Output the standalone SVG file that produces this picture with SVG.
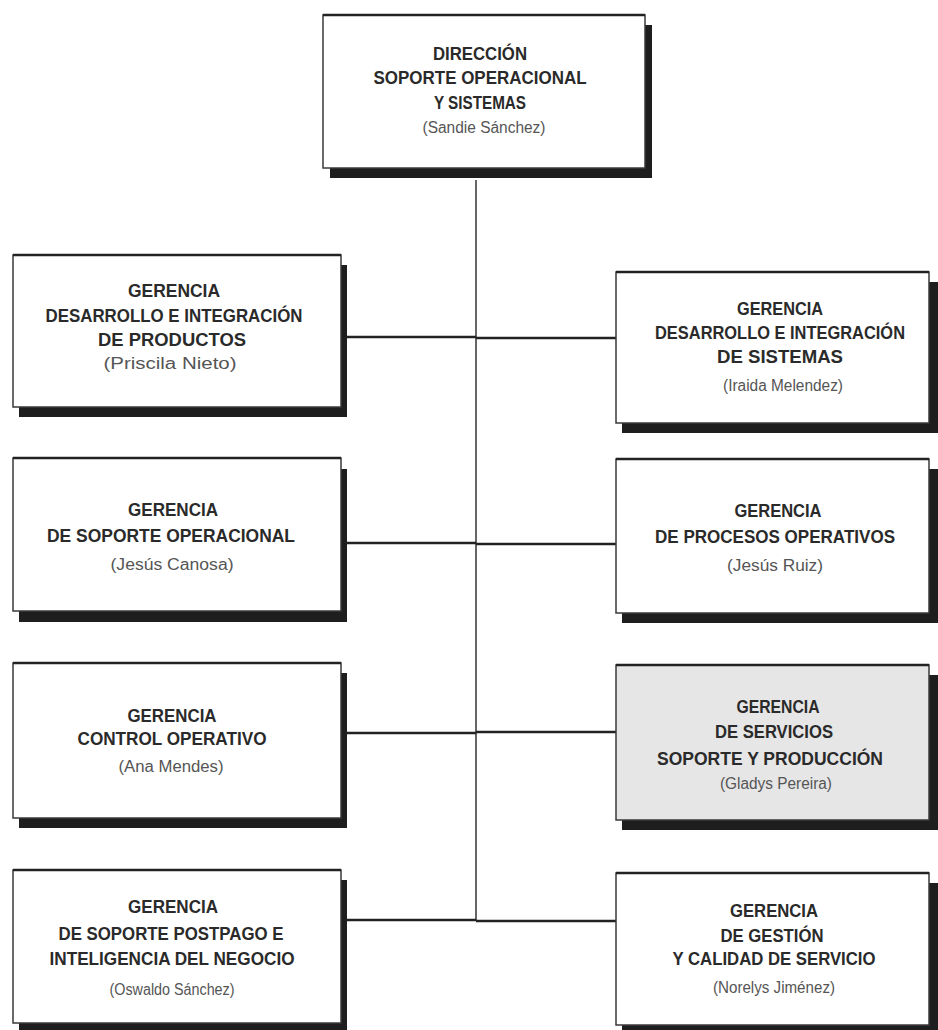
<svg xmlns="http://www.w3.org/2000/svg" width="938" height="1030" viewBox="0 0 938 1030">
<style>
.shadow{fill:#1e1e1e}
.box{fill:#ffffff;stroke:#3a3a3a;stroke-width:1.5}
.box.gray{fill:#e6e6e6}
.topedge{stroke:#222;stroke-width:2.5}
.t{font-family:"Liberation Sans",Arial,sans-serif;font-weight:bold;font-size:18px;fill:#2a2a2a;text-anchor:middle}
.n{font-family:"Liberation Sans",Arial,sans-serif;font-size:16px;fill:#555;text-anchor:middle}
.trunk{stroke:#333;stroke-width:1.5;fill:none}
.branch{stroke:#222;stroke-width:2.5;fill:none}
</style>
<rect width="938" height="1030" fill="#ffffff"/>
<g id="connectors">
<line class="trunk" x1="476" y1="180" x2="476" y2="921"/>
<line class="branch" x1="342" y1="337" x2="476" y2="337"/>
<line class="branch" x1="476" y1="338" x2="616" y2="338"/>
<line class="branch" x1="342" y1="543" x2="476" y2="543"/>
<line class="branch" x1="476" y1="544" x2="616" y2="544"/>
<line class="branch" x1="342" y1="733" x2="476" y2="733"/>
<line class="branch" x1="476" y1="732" x2="616" y2="732"/>
<line class="branch" x1="342" y1="920" x2="476" y2="920"/>
<line class="branch" x1="476" y1="921" x2="616" y2="921"/>
</g>
<g id="direccion">
<rect class="shadow" x="330" y="25" width="322" height="153"/>
<rect class="box" x="323" y="15" width="322" height="153"/>
<line class="topedge" x1="323" y1="15" x2="645" y2="15"/>
<text class="t" x="480" y="60" textLength="94" lengthAdjust="spacingAndGlyphs">DIRECCIÓN</text>
<text class="t" x="480" y="84" textLength="213" lengthAdjust="spacingAndGlyphs">SOPORTE OPERACIONAL</text>
<text class="t" x="480" y="109" textLength="92" lengthAdjust="spacingAndGlyphs">Y SISTEMAS</text>
<text class="n" x="484" y="133" textLength="123" lengthAdjust="spacingAndGlyphs">(Sandie Sánchez)</text>
</g>
<g id="g-productos">
<rect class="shadow" x="19" y="265" width="328" height="152"/>
<rect class="box" x="13" y="255" width="328" height="152"/>
<line class="topedge" x1="13" y1="255" x2="341" y2="255"/>
<text class="t" x="174" y="297" textLength="92" lengthAdjust="spacingAndGlyphs">GERENCIA</text>
<text class="t" x="174" y="322" textLength="257" lengthAdjust="spacingAndGlyphs">DESARROLLO E INTEGRACIÓN</text>
<text class="t" x="172" y="346" textLength="148" lengthAdjust="spacingAndGlyphs">DE PRODUCTOS</text>
<text class="n" x="170" y="369" textLength="133" lengthAdjust="spacingAndGlyphs">(Priscila Nieto)</text>
</g>
<g id="g-sistemas">
<rect class="shadow" x="622" y="282" width="316" height="151"/>
<rect class="box" x="616" y="272" width="313" height="151"/>
<line class="topedge" x1="616" y1="272" x2="929" y2="272"/>
<text class="t" x="780" y="315" textLength="86" lengthAdjust="spacingAndGlyphs">GERENCIA</text>
<text class="t" x="780" y="339" textLength="250" lengthAdjust="spacingAndGlyphs">DESARROLLO E INTEGRACIÓN</text>
<text class="t" x="780" y="363" textLength="126" lengthAdjust="spacingAndGlyphs">DE SISTEMAS</text>
<text class="n" x="783" y="391" textLength="120" lengthAdjust="spacingAndGlyphs">(Iraida Melendez)</text>
</g>
<g id="g-soporte">
<rect class="shadow" x="19" y="469" width="328" height="153"/>
<rect class="box" x="13" y="458" width="328" height="153"/>
<line class="topedge" x1="13" y1="458" x2="341" y2="458"/>
<text class="t" x="173" y="516" textLength="90" lengthAdjust="spacingAndGlyphs">GERENCIA</text>
<text class="t" x="171" y="542" textLength="248" lengthAdjust="spacingAndGlyphs">DE SOPORTE OPERACIONAL</text>
<text class="n" x="172" y="570" textLength="123" lengthAdjust="spacingAndGlyphs">(Jesús Canosa)</text>
</g>
<g id="g-procesos">
<rect class="shadow" x="622" y="469" width="316" height="154"/>
<rect class="box" x="616" y="459" width="313" height="154"/>
<line class="topedge" x1="616" y1="459" x2="929" y2="459"/>
<text class="t" x="778" y="517" textLength="87" lengthAdjust="spacingAndGlyphs">GERENCIA</text>
<text class="t" x="775" y="543" textLength="240" lengthAdjust="spacingAndGlyphs">DE PROCESOS OPERATIVOS</text>
<text class="n" x="775" y="571" textLength="96" lengthAdjust="spacingAndGlyphs">(Jesús Ruiz)</text>
</g>
<g id="g-control">
<rect class="shadow" x="19" y="673" width="328" height="155"/>
<rect class="box" x="13" y="663" width="328" height="155"/>
<line class="topedge" x1="13" y1="663" x2="341" y2="663"/>
<text class="t" x="172" y="722" textLength="89" lengthAdjust="spacingAndGlyphs">GERENCIA</text>
<text class="t" x="172" y="745" textLength="189" lengthAdjust="spacingAndGlyphs">CONTROL OPERATIVO</text>
<text class="n" x="171" y="772" textLength="105" lengthAdjust="spacingAndGlyphs">(Ana Mendes)</text>
</g>
<g id="g-servicios">
<rect class="shadow" x="622" y="675" width="316" height="155"/>
<rect class="box gray" x="616" y="665" width="313" height="155"/>
<line class="topedge" x1="616" y1="665" x2="929" y2="665"/>
<text class="t" x="778" y="713" textLength="83" lengthAdjust="spacingAndGlyphs">GERENCIA</text>
<text class="t" x="774" y="738" textLength="118" lengthAdjust="spacingAndGlyphs">DE SERVICIOS</text>
<text class="t" x="770" y="765" textLength="226" lengthAdjust="spacingAndGlyphs">SOPORTE Y PRODUCCIÓN</text>
<text class="n" x="776" y="789" textLength="112" lengthAdjust="spacingAndGlyphs">(Gladys Pereira)</text>
</g>
<g id="g-postpago">
<rect class="shadow" x="19" y="880" width="328" height="153"/>
<rect class="box" x="13" y="870" width="328" height="153"/>
<line class="topedge" x1="13" y1="870" x2="341" y2="870"/>
<text class="t" x="173" y="913" textLength="90" lengthAdjust="spacingAndGlyphs">GERENCIA</text>
<text class="t" x="171" y="940" textLength="225" lengthAdjust="spacingAndGlyphs">DE SOPORTE POSTPAGO E</text>
<text class="t" x="172" y="965" textLength="245" lengthAdjust="spacingAndGlyphs">INTELIGENCIA DEL NEGOCIO</text>
<text class="n" x="172" y="995" textLength="125" lengthAdjust="spacingAndGlyphs">(Oswaldo Sánchez)</text>
</g>
<g id="g-gestion">
<rect class="shadow" x="622" y="883" width="316" height="152"/>
<rect class="box" x="616" y="873" width="313" height="152"/>
<line class="topedge" x1="616" y1="873" x2="929" y2="873"/>
<text class="t" x="774" y="917" textLength="88" lengthAdjust="spacingAndGlyphs">GERENCIA</text>
<text class="t" x="772" y="942" textLength="103" lengthAdjust="spacingAndGlyphs">DE GESTIÓN</text>
<text class="t" x="774" y="965" textLength="203" lengthAdjust="spacingAndGlyphs">Y CALIDAD DE SERVICIO</text>
<text class="n" x="774" y="993" textLength="122" lengthAdjust="spacingAndGlyphs">(Norelys Jiménez)</text>
</g>
</svg>
